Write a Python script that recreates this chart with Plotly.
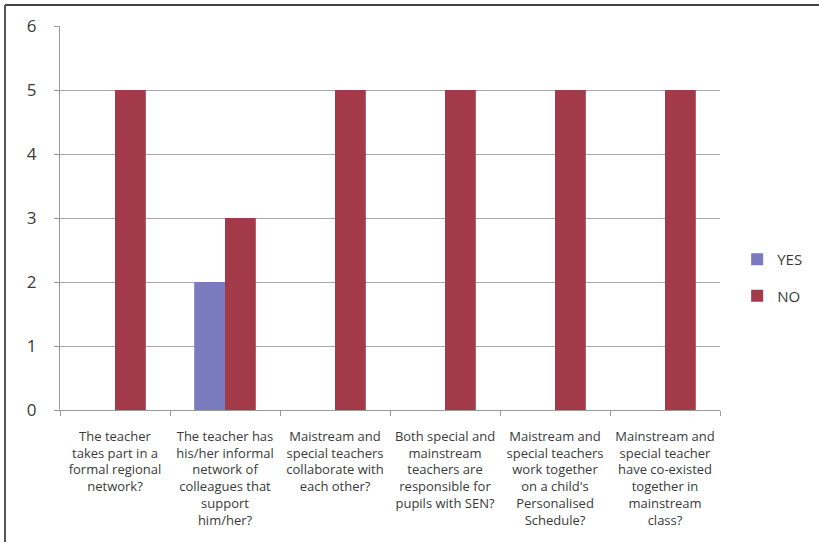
import plotly.graph_objects as go

categories = [
    "The teacher<br>takes part in a<br>formal regional<br>network?",
    "The teacher has<br>his/her informal<br>network of<br>colleagues that<br>support<br>him/her?",
    "Maistream and<br>special teachers<br>collaborate with<br>each other?",
    "Both special and<br>mainstream<br>teachers are<br>responsible for<br>pupils with SEN?",
    "Maistream and<br>special teachers<br>work together<br>on a child's<br>Personalised<br>Schedule?",
    "Mainstream and<br>special teacher<br>have co-existed<br>together in<br>mainstream<br>class?",
]
yes_values = [0, 2, 0, 0, 0, 0]
no_values = [5, 3, 5, 5, 5, 5]
y_ticks = [0, 1, 2, 3, 4, 5, 6]

FONT = "Open Sans, Lato, sans-serif"
TXT = "#3a3a3a"

fig = go.Figure()
fig.add_trace(go.Bar(name="YES", x=categories, y=yes_values,
                     marker=dict(color="#7A7ABF", line=dict(width=0)),
                     legendgroup="a"))
fig.add_trace(go.Bar(name="NO", x=categories, y=no_values,
                     marker=dict(color="#A33A4A", line=dict(width=0)),
                     legendgroup="b"))

fig.update_layout(
    width=819, height=542,
    margin=dict(l=60, r=99, t=26, b=132),
    paper_bgcolor="white", plot_bgcolor="white",
    barmode="group", bargap=0.44, bargroupgap=0,
    font=dict(family=FONT, color=TXT),
    legend=dict(x=1.026, y=0.345, xanchor="left", yanchor="middle",
                font=dict(size=15, color=TXT), tracegroupgap=14,
                itemwidth=30, bgcolor="rgba(0,0,0,0)"),
    xaxis=dict(showline=True, linecolor="#9a9a9a", linewidth=1,
               ticks="outside", tickson="boundaries", ticklen=5,
               tickcolor="#9a9a9a", tickfont=dict(size=13, color=TXT),
               tickangle=0, showgrid=False, automargin=False,
               ticklabelstandoff=14),
    yaxis=dict(range=[0, 6], tickvals=y_ticks, showline=True,
               linecolor="#9a9a9a", linewidth=1, ticks="outside",
               ticklen=5, tickcolor="#9a9a9a", showgrid=True,
               gridcolor="#a8a8a8", gridwidth=1, ticklabelstandoff=14,
               tickfont=dict(size=17, color=TXT), zeroline=False,
               automargin=False),
    shapes=[
        dict(type="line", xref="paper", yref="paper",
             x0=-0.0833, x1=1.16, y0=1.0547, y1=1.0547,
             line=dict(color="#444444", width=2)),
        dict(type="line", xref="paper", yref="paper",
             x0=-0.0833, x1=-0.0833, y0=1.0547, y1=-0.36,
             line=dict(color="#555555", width=2)),
    ],
)

fig.write_html("out.html", config={"displayModeBar": False},
               post_script="document.body.style.margin='0';")
